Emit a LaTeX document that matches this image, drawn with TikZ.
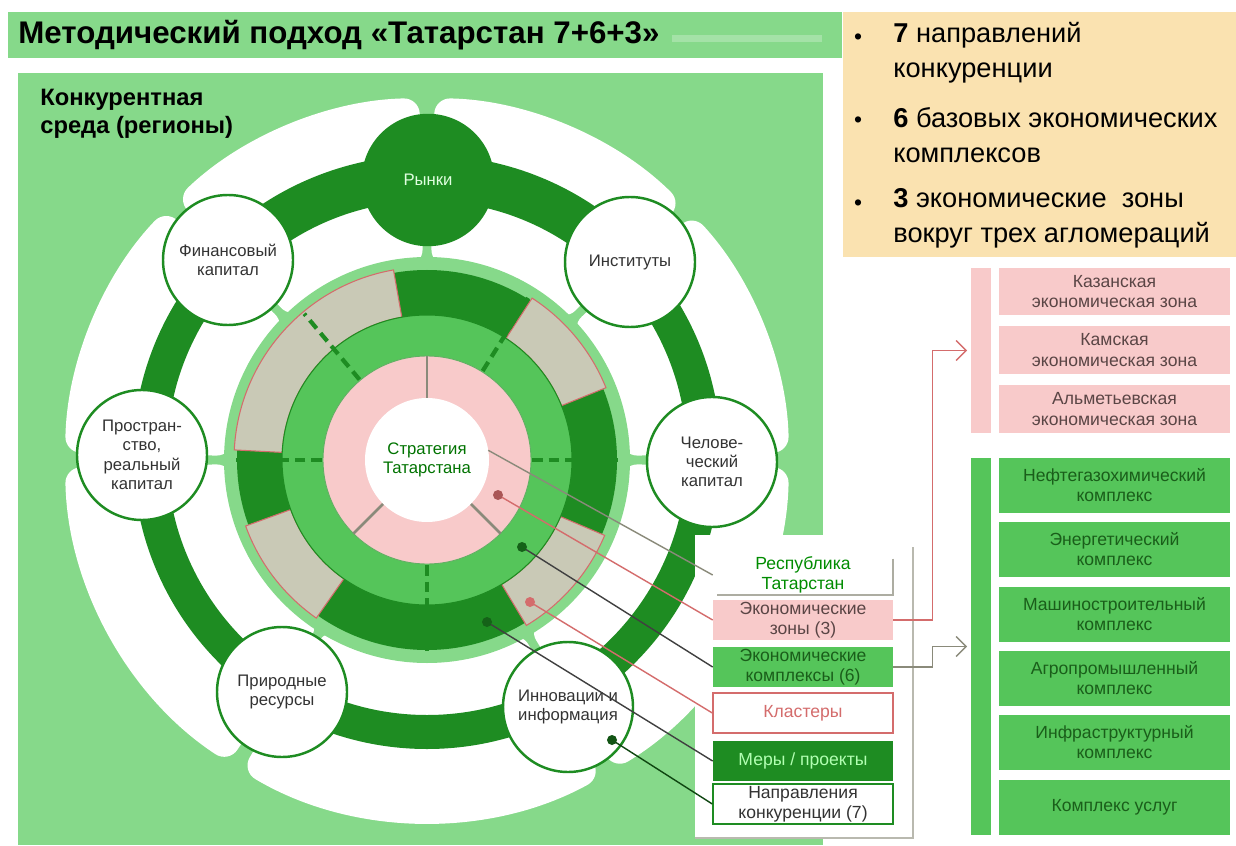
\documentclass[tikz,border=0pt]{standalone}
\usepackage{fontspec}
\setmainfont{Liberation Sans}
\usetikzlibrary{calc,arrows.meta}

\definecolor{panelgreen}{HTML}{86D98A}
\definecolor{darkgreen}{HTML}{1E8C22}
\definecolor{midgreen}{HTML}{55C55A}
\definecolor{pinkfill}{HTML}{F8CACA}
\definecolor{pinkline}{HTML}{D46C6C}
\definecolor{graysector}{HTML}{C9C9B6}
\definecolor{peach}{HTML}{FAE2B0}
\definecolor{textgray}{HTML}{333333}
\definecolor{leadgray}{HTML}{8A8A7A}
\definecolor{zonetext}{HTML}{5A4545}
\definecolor{complextext}{HTML}{1A5E1A}

\begin{document}
\begin{tikzpicture}[x=0.2mm, y=0.2mm,
        factor/.style={circle, draw=darkgreen, line width=1.4pt, fill=white, minimum size=26mm, inner sep=0pt, align=center, text=textgray, font=\fontsize{9.5}{11}\selectfont},
        keybox/.style={minimum width=36mm, minimum height=8mm, inner sep=0pt, align=center, font=\fontsize{10}{11.5}\selectfont},
        zonebox/.style={fill=pinkfill, minimum width=46.2mm, minimum height=9.4mm, inner sep=0pt, align=center, text=zonetext, font=\fontsize{10}{11.5}\selectfont},
        complexbox/.style={fill=midgreen, minimum width=46.2mm, minimum height=11mm, inner sep=0pt, align=center, text=complextext, font=\fontsize{10}{11.5}\selectfont},
        bulletline/.style={anchor=west, inner sep=0pt, align=left, font=\fontsize{15.5}{20}\selectfont},
        leaddot/.style={circle, fill=#1, inner sep=0pt, minimum size=2mm}
    ]
        \useasboundingbox (0,0) rectangle (1236,845);
        \coordinate (c) at (427,385);

        \fill[panelgreen] (8,787) rectangle (842,833);
        \fill[white, opacity=0.25] (672,803) rectangle (822,810);
        \node[anchor=west, inner sep=0pt, font=\bfseries\fontsize{17.8}{19}\selectfont] (title) at (18,810) {Методический подход «Татарстан 7+6+3»};

        \fill[peach] (843,588) rectangle (1236,833);
        \foreach \y in {806,723,640}
            \node[font=\fontsize{13}{20}\selectfont] at (858,\y) {•};
        \node[bulletline] (b7) at (893,792) {\textbf{7} направлений\\конкуренции};
        \node[bulletline] (b6) at (893,710) {\textbf{6} базовых экономических\\комплексов};
        \node[bulletline] (b3) at (893,627) {\textbf{3} экономические \ зоны\\вокруг трех агломераций};

        \fill[panelgreen] (18,0) rectangle (823,772);
        \node[anchor=west, inner sep=0pt, align=left, font=\bfseries\fontsize{13.5}{16}\selectfont] (env) at (40,731) {Конкурентная\\среда (регионы)};

        \foreach \a/\b in {0/44,44/90,90/135,135/180,180/238,238/300,300/360}
            \fill[white, rounded corners=9] ($(c)+(\a+1.2:195)$) arc[start angle=\a+1.2, end angle=\b-1.2, radius=195]
                -- ($(c)+(\b-1.2:362)$) arc[start angle=\b-1.2, end angle=\a+1.2, radius=362] -- cycle;

        \draw[darkgreen, line width=6.8mm] (427,390) circle[radius=277];
        \draw[darkgreen, line width=9.2mm] ($(427,390)+(50:277)$) arc[start angle=50, end angle=130, radius=277];

        \node[factor, fill=darkgreen, text=green!12] (markets) at (428,665) {Рынки};
        \node[factor] (finance) at (228,585) {Финансовый\\капитал};
        \node[factor] (institutes) at (630,583) {Институты};
        \node[factor] (space) at (142,390) {Простран-\\ство,\\реальный\\капитал};
        \node[factor] (human) at (712,383) {Челове-\\ческий\\капитал};
        \node[factor] (nature) at (282,153) {Природные\\ресурсы};
        \node[factor] (innov) at (568,138) {Инновации и\\информация};

        \fill[panelgreen] (c) circle[radius=203];
        \fill[darkgreen] (c) circle[radius=190];
        \foreach \a/\b in {100/177,22/57,-59/-23,200/235}
            \filldraw[fill=graysector, draw=pinkline, line width=0.6pt] ($(c)+(\a:145)$) arc[start angle=\a, end angle=\b, radius=145]
                -- ($(c)+(\b:193)$) arc[start angle=\b, end angle=\a, radius=193] -- cycle;
        \filldraw[fill=midgreen, draw=darkgreen, line width=0.6pt] (c) circle[radius=145];
        \filldraw[fill=pinkfill, draw=darkgreen!70, line width=0.5pt] (c) circle[radius=104];
        \foreach \a in {90,225,315}
            \draw[leadgray, line width=1.6pt] ($(c)+(\a:62)$) -- ($(c)+(\a:104)$);
        \foreach \a in {0,58,130,180,270}
            \draw[darkgreen, line width=2.4pt, dash pattern=on 6pt off 3.5pt] ($(c)+(\a:105)$) -- ($(c)+(\a:191)$);
        \node[circle, fill=white, minimum size=24.8mm, inner sep=0pt, align=center, text=green!45!black, font=\fontsize{9.5}{11}\selectfont] (strategy) at (c) {Стратегия\\Татарстана};

        \fill[white] (695,7) rectangle (913,310);
        \draw[leadgray!60, line width=1pt] (913,298) -- (913,7) -- (695,7);

        \node[keybox, text=green!55!black] (republic) at (803,270) {Республика\\Татарстан};
        \node[keybox, fill=pinkfill, text=zonetext] (zones) at (803,225) {Экономические\\зоны (3)};
        \node[keybox, fill=midgreen, text=complextext] (complexes) at (803,178) {Экономические\\комплексы (6)};
        \node[keybox, fill=white, draw=pinkline, line width=0.8pt, text=pinkline] (clusters) at (803,132) {Кластеры};
        \node[keybox, fill=darkgreen, text=green!30] (measures) at (803,84) {Меры / проекты};
        \node[keybox, fill=white, draw=darkgreen, line width=0.8pt, text=textgray] (directions) at (803,41) {Направления\\конкуренции (7)};
        \draw[leadgray!70, line width=1pt] ($(republic.north east)+(0,-4)$) -- (republic.south east) -- ($(republic.south west)+(4,0)$);

        \coordinate (s0) at ($(c)+(9:62)$);
        \coordinate (d1) at (498,350);
        \coordinate (d2) at (522,298);
        \coordinate (d3) at (530,243);
        \coordinate (d4) at (487,223);
        \coordinate (d5) at (612,105);

        \draw[leadgray, line width=0.8pt] (s0) -- (republic.west);
        \draw[pinkline, line width=0.8pt] (d1) -- (zones.west);
        \draw[darkgray, line width=0.8pt] (d2) -- (complexes.west);
        \draw[pinkline, line width=0.8pt] (d3) -- (clusters.west);
        \draw[darkgray, line width=0.8pt] (d4) -- (measures.west);
        \draw[darkgreen!50!black, line width=0.8pt] (d5) -- (directions.west);
        \node[leaddot=pinkline!80!black] at (d1) {};
        \node[leaddot=darkgreen!70!black] at (d2) {};
        \node[leaddot=pinkline] at (d3) {};
        \node[leaddot=darkgreen!70!black] at (d4) {};
        \node[leaddot=darkgreen!60!black] at (d5) {};

        \node[fill=pinkfill, minimum width=4mm, minimum height=33mm, inner sep=0pt] (zonebar) at (981,494.5) {};
        \node[fill=midgreen, minimum width=4mm, minimum height=75.4mm, inner sep=0pt] (complexbar) at (981,198.5) {};

        \node[zonebox] (kazan) at (1114.5,553.5) {Казанская\\экономическая зона};
        \node[zonebox] (kama) at (1114.5,495) {Камская\\экономическая зона};
        \node[zonebox] (almet) at (1114.5,436) {Альметьевская\\экономическая зона};

        \node[complexbox] (oil) at (1114.5,360) {Нефтегазохимический\\комплекс};
        \node[complexbox] (energy) at (1114.5,296) {Энергетический\\комплекс};
        \node[complexbox] (machine) at (1114.5,231) {Машиностроительный\\комплекс};
        \node[complexbox] (agro) at (1114.5,167) {Агропромышленный\\комплекс};
        \node[complexbox] (infra) at (1114.5,103) {Инфраструктурный\\комплекс};
        \node[complexbox] (service) at (1114.5,38) {Комплекс услуг};

        \draw[pinkline, line width=0.8pt, -{Straight Barb[length=2mm]}, shorten >=2pt] (zones.east) -- ++(39,0) |- (zonebar.west);
        \draw[leadgray, line width=0.8pt, -{Straight Barb[length=2mm]}, shorten >=2pt] (complexes.east) -- ++(39,0) |- (complexbar.west);
    \end{tikzpicture}
\end{document}
